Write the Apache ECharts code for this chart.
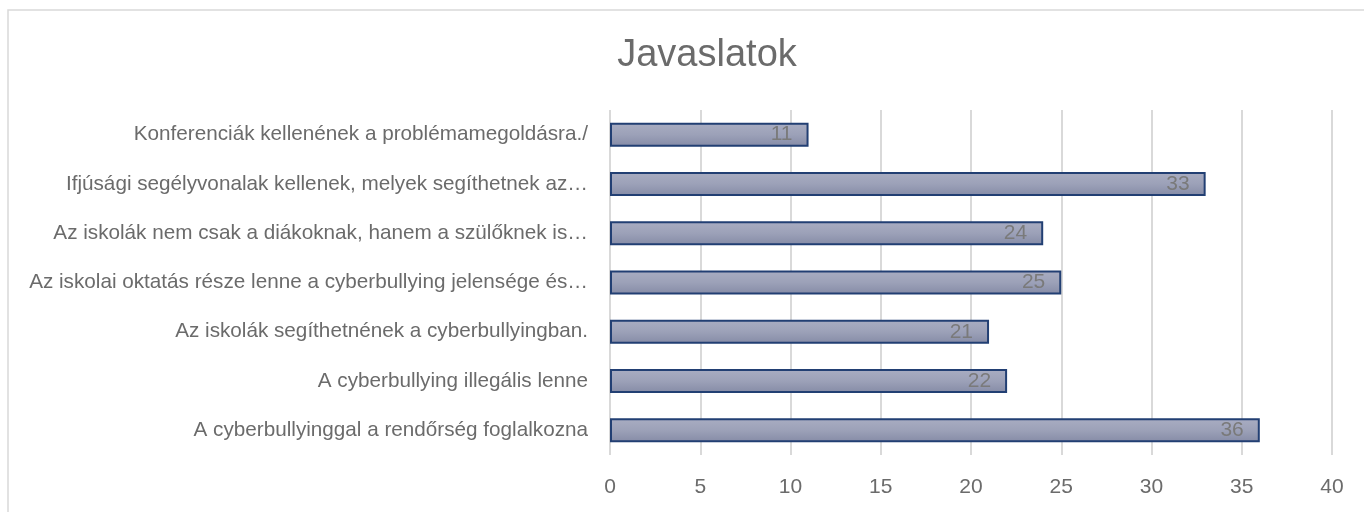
<!DOCTYPE html>
<html lang="hu">
<head>
    <meta charset="UTF-8">
    <title>Javaslatok</title>
    <script src="https://cdn.jsdelivr.net/npm/echarts@6.0.0/dist/echarts.min.js"></script>
    <style>
        html, body { margin: 0; padding: 0; background: #fff; }
        #chart { width: 1364px; height: 512px; }
    </style>
</head>
<body>
    <div id="chart"></div>
    <script>
        // adatok (felülről lefelé)
        const categories = [
            'Konferenciák kellenének a problémamegoldásra./',
            'Ifjúsági segélyvonalak kellenek, melyek segíthetnek az…',
            'Az iskolák nem csak a diákoknak, hanem a szülőknek is…',
            'Az iskolai oktatás része lenne a cyberbullying jelensége és…',
            'Az iskolák segíthetnének a cyberbullyingban.',
            'A cyberbullying illegális lenne',
            'A cyberbullyinggal a rendőrség foglalkozna'
        ];
        const values = [11, 33, 24, 25, 21, 22, 36];
        const xTicks = [0, 5, 10, 15, 20, 25, 30, 35, 40];

        const font = "'Liberation Sans', sans-serif";
        const chart = echarts.init(document.getElementById('chart'));

        chart.setOption({
            animation: false,
            title: {
                text: 'Javaslatok',
                left: 702,
                top: 32,
                textAlign: 'center',
                textStyle: { fontFamily: font, fontSize: 38, fontWeight: 'normal', color: '#6b6b6b' }
            },
            graphic: [{
                type: 'rect',
                shape: { x: 8, y: 10, width: 1400, height: 540 },
                style: { fill: 'none', stroke: '#d9d9d9', lineWidth: 1.5 },
                silent: true
            }],
            grid: { left: 610, right: 32, top: 110, bottom: 57 },
            xAxis: {
                type: 'value',
                min: xTicks[0],
                max: xTicks[xTicks.length - 1],
                interval: 5,
                axisLine: { show: false },
                axisTick: { show: false },
                splitLine: { lineStyle: { color: '#d9d9d9', width: 2 } },
                axisLabel: { margin: 22, fontFamily: font, fontSize: 21, color: '#6b6b6b' }
            },
            yAxis: {
                type: 'category',
                data: categories,
                inverse: true,
                axisLine: { show: false },
                axisTick: { show: false },
                axisLabel: { margin: 22, fontFamily: font, fontSize: 20.7, color: '#6b6b6b' }
            },
            series: [{
                type: 'bar',
                data: values,
                barWidth: 24,
                itemStyle: {
                    color: new echarts.graphic.LinearGradient(0, 0, 0, 1, [
                        { offset: 0, color: '#a9adc2' },
                        { offset: 0.5, color: '#9ca1b8' },
                        { offset: 1, color: '#858ba6' }
                    ]),
                    borderColor: '#223f73',
                    borderWidth: 2
                },
                label: {
                    show: true,
                    position: 'insideRight',
                    distance: 16,
                    fontFamily: font,
                    fontSize: 21,
                    color: '#7a7a7a'
                }
            }]
        });
    </script>
</body>
</html>
